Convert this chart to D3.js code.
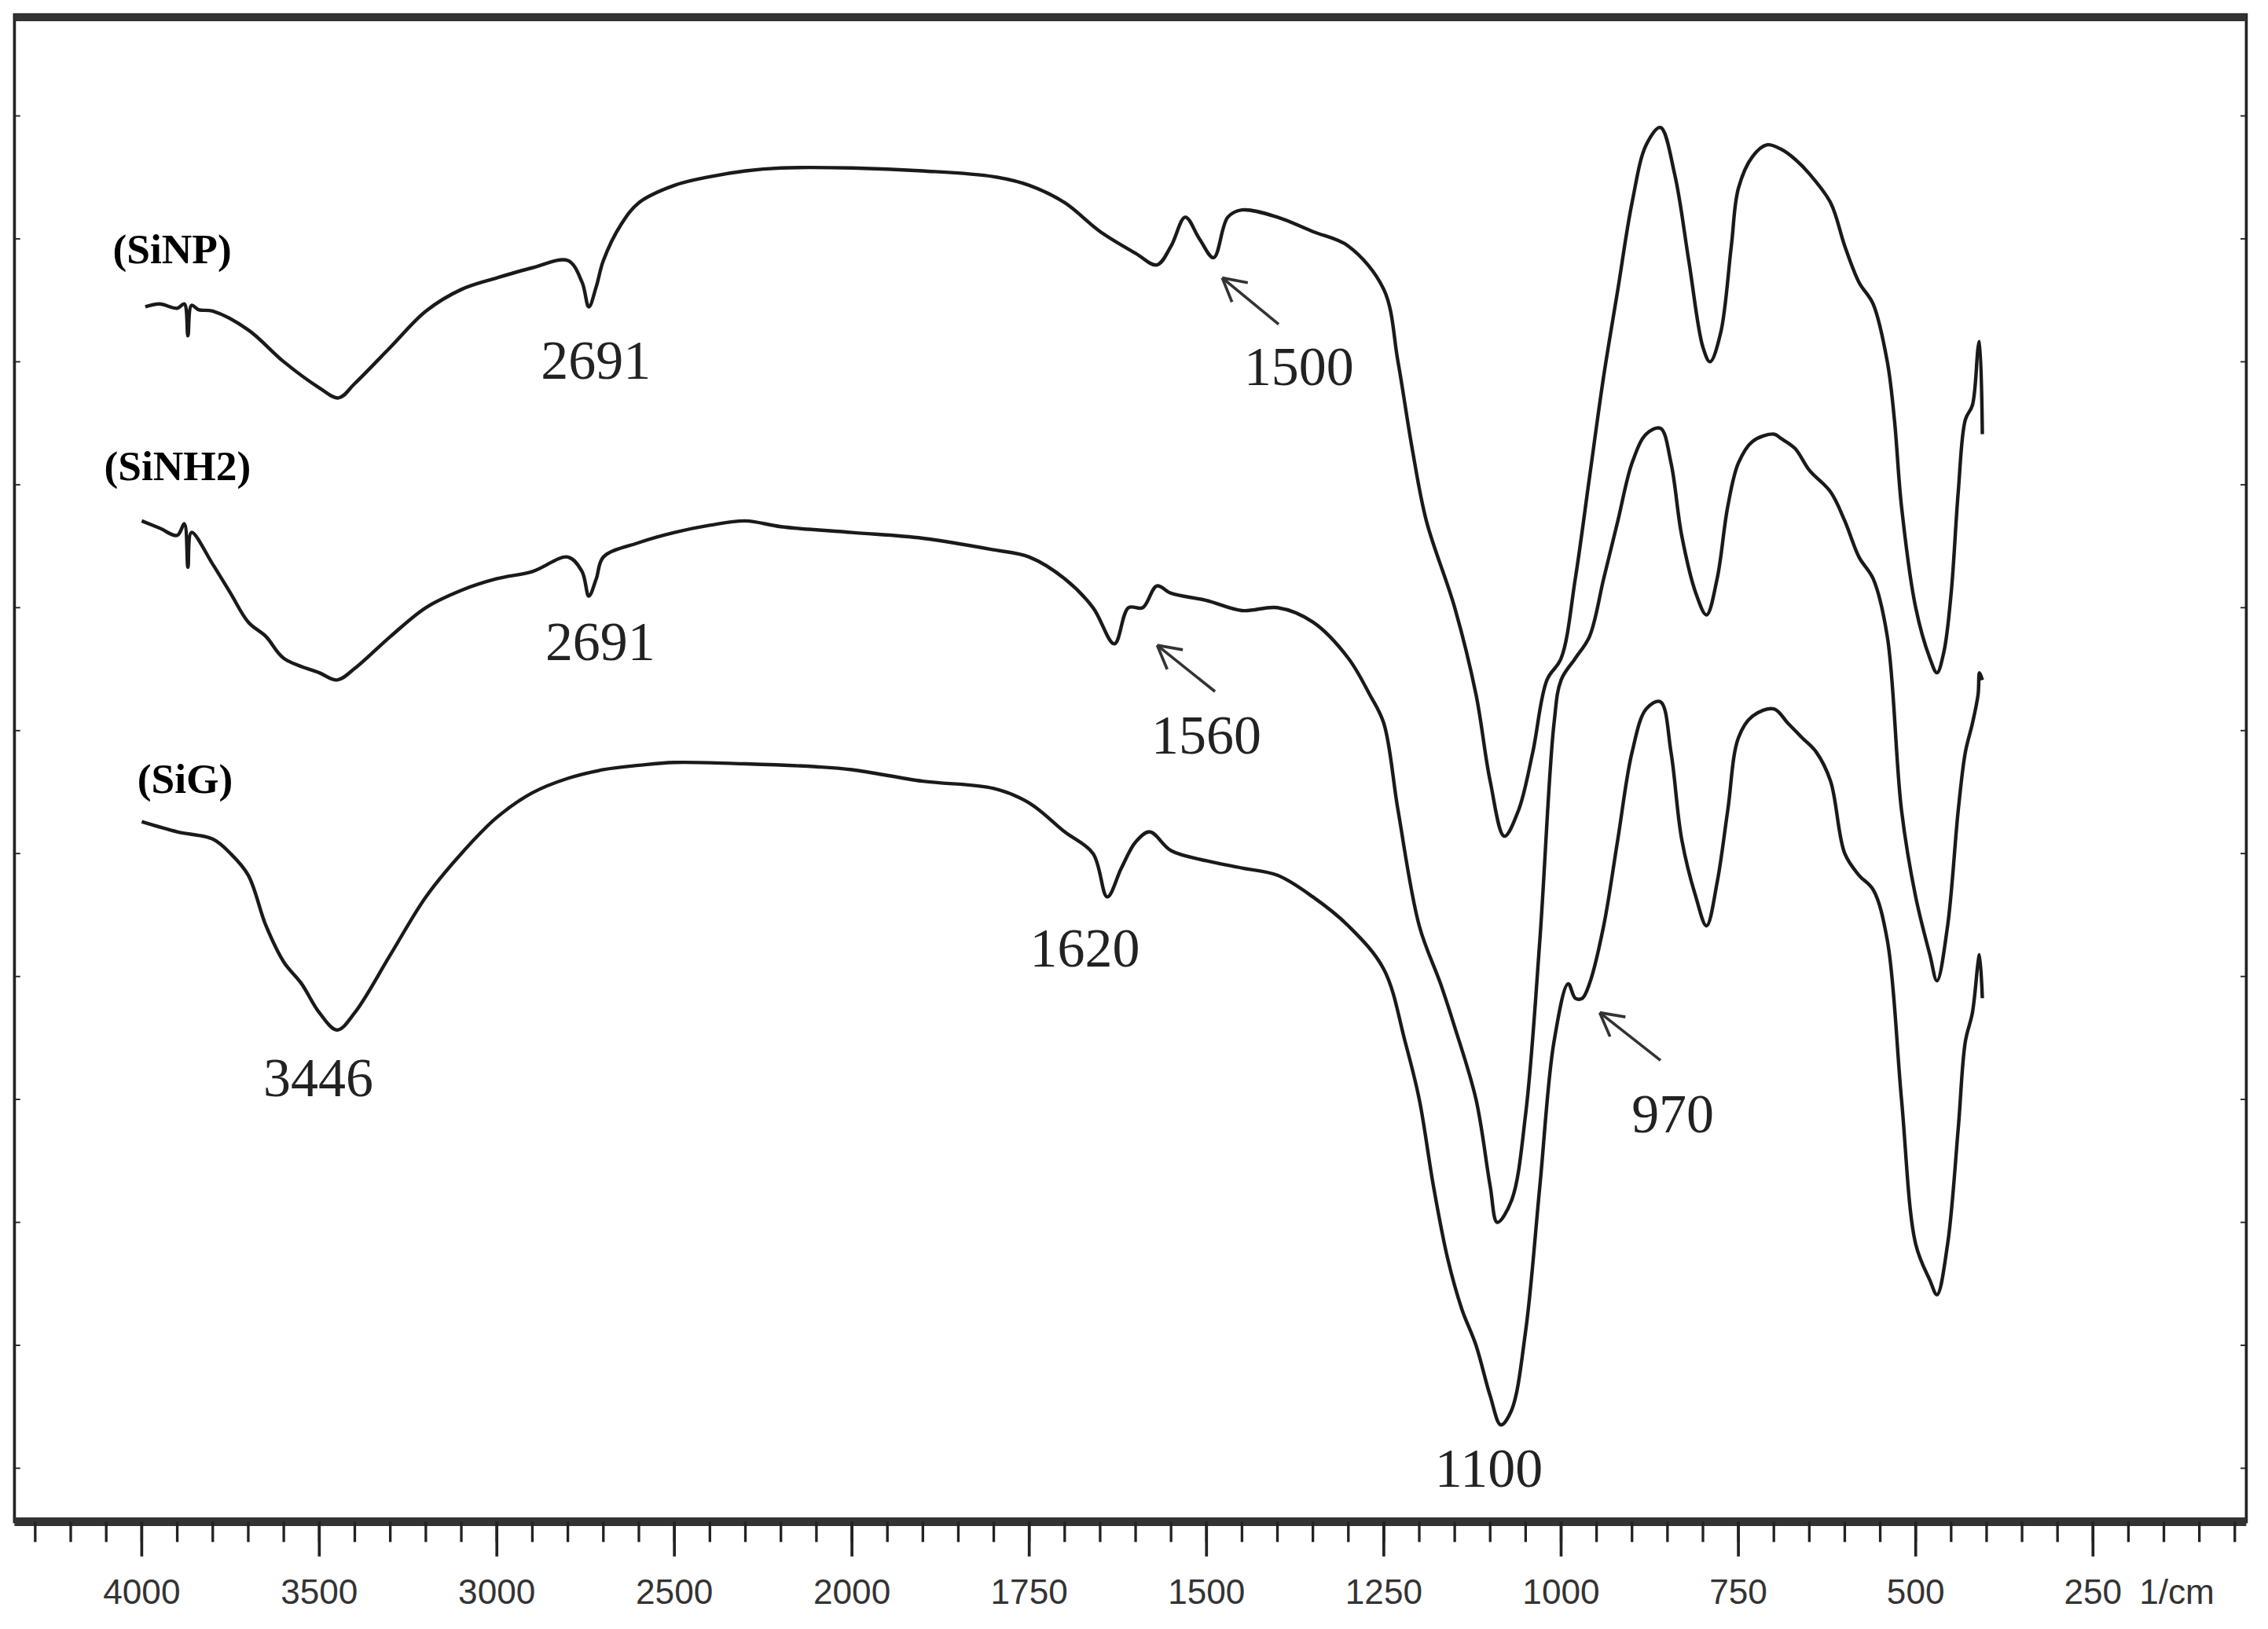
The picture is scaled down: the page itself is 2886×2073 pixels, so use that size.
<!DOCTYPE html><html><head><meta charset="utf-8">
<script src="https://cdn.jsdelivr.net/npm/d3@7"></script>
<style>body{margin:0;background:#fff}</style></head><body><svg id="c"></svg>
<script>
// wavenumber (cm-1) and transmittance-like values (arbitrary units)
const sinpX=[3990,3950,3900,3880,3870,3860,3840,3800,3700,3600,3500,3446,3400,3300,3200,3100,3000,2900,2800,2760,2741,2720,2700,2650,2600,2500,2400,2300,2200,2000,1900,1800,1750,1700,1650,1600,1570,1550,1530,1510,1490,1470,1450,1400,1350,1300,1250,1230,1210,1190,1150,1120,1100,1080,1060,1040,1020,1000,980,960,940,920,900,880,860,840,820,800,790,775,760,750,730,710,690,670,650,620,600,580,560,540,530,520,500,480,470,460,450,440,430,420,412,410,406];
const sinpY=[212,210,213,210,232,211,214,215,228,250,268,275,265,240,215,200,192,185,180,195,212,198,180,155,140,128,122,118,116,116,118,122,128,140,160,175,183,170,150,165,178,150,145,150,160,170,200,250,310,360,420,480,540,578,560,520,470,455,400,330,260,200,140,100,88,120,180,240,250,230,170,130,108,100,103,110,120,140,170,195,210,250,290,350,420,455,465,450,410,340,290,280,240,236,300];
const sinh2X=[4000,3950,3900,3880,3870,3860,3800,3750,3700,3650,3600,3500,3450,3400,3300,3200,3100,3000,2900,2800,2760,2741,2720,2700,2600,2500,2400,2300,2200,2000,1900,1800,1750,1700,1660,1630,1610,1590,1570,1550,1500,1450,1400,1350,1300,1270,1250,1230,1200,1170,1150,1120,1100,1090,1070,1050,1030,1010,1000,980,960,940,920,900,880,860,845,830,810,795,780,765,750,730,700,690,670,650,620,600,580,560,540,520,500,480,470,455,440,430,420,412,410,406];
const sinh2Y=[360,365,370,362,392,368,390,410,430,440,455,465,470,462,440,420,408,400,395,385,395,412,400,385,375,368,363,360,364,368,372,380,385,400,420,445,420,420,405,410,415,422,420,430,455,480,500,560,640,680,710,760,820,845,830,770,650,500,470,455,440,400,360,320,300,296,320,370,410,425,400,350,320,305,300,303,310,325,340,360,385,400,440,560,620,660,678,640,560,520,500,480,465,470];
const sigX=[4000,3900,3800,3750,3700,3650,3600,3550,3500,3450,3400,3300,3200,3100,3000,2900,2800,2700,2600,2500,2300,2100,2000,1900,1800,1750,1700,1660,1640,1620,1600,1580,1550,1500,1450,1400,1350,1300,1250,1220,1200,1180,1160,1140,1120,1100,1085,1070,1050,1030,1010,990,980,970,960,940,920,900,880,860,845,830,810,795,780,765,750,730,700,680,660,640,620,600,580,560,540,520,500,480,470,455,440,430,420,412,410,406];
const sigY=[568,575,580,590,605,640,665,680,700,712,700,660,620,590,565,548,538,532,529,527,528,530,532,540,545,555,575,590,620,600,582,575,588,595,600,605,620,640,670,720,760,820,870,905,930,965,985,975,920,820,720,680,690,690,680,640,580,520,490,485,520,580,620,640,610,560,510,495,490,500,510,520,540,590,605,615,650,760,860,885,895,860,780,720,700,665,660,690];
const xTicks=[4000,3500,3000,2500,2000,1750,1500,1250,1000,750,500,250];
const seriesNames=["(SiNP)","(SiNH2)","(SiG)"];
const peakLabels=["2691","1500","2691","1560","1620","3446","970","1100"];

const W=1568,H=1126;
const svg=d3.select("#c").attr("width",2886).attr("height",2073).attr("viewBox",`0 0 ${W} ${H}`);
const x=d3.scaleLinear().domain([4000,2000,250]).range([98,589,1447]);
const y=d3.scaleLinear().domain([0,1052]).range([0,1052]);
// frame
svg.append("rect").attr("x",10).attr("y",10).attr("width",1543).attr("height",1042).attr("fill","none").attr("stroke","#222").attr("stroke-width",2);
svg.append("line").attr("x1",10).attr("x2",1553).attr("y1",12).attr("y2",12).attr("stroke","#333").attr("stroke-width",5);
svg.append("line").attr("x1",10).attr("x2",1553).attr("y1",1052).attr("y2",1052).attr("stroke","#333").attr("stroke-width",6);
// x ticks
const minor=[4300,4200,4100];
for(let v=4000;v>2000;v-=100)minor.push(v);
for(let v=2000;v>=50;v-=50)minor.push(v);
svg.selectAll(".mt").data(minor).join("line").attr("x1",d=>x(d)).attr("x2",d=>x(d)).attr("y1",1052).attr("y2",1066).attr("stroke","#222").attr("stroke-width",1.8);
svg.selectAll(".Mt").data(xTicks).join("line").attr("x1",d=>x(d)).attr("x2",d=>x(d)).attr("y1",1052).attr("y2",1076).attr("stroke","#222").attr("stroke-width",2);
svg.selectAll(".tl").data(xTicks).join("text").attr("x",d=>x(d)).attr("y",1109).attr("text-anchor","middle")
 .attr("font-family","Liberation Sans, Arial").attr("font-size",24).attr("fill","#333").text(d=>d);
svg.append("text").attr("x",1479).attr("y",1109).attr("font-family","Liberation Sans, Arial").attr("font-size",24).attr("fill","#333").text("1/cm");
// left/right minor ticks
svg.selectAll(".yt").data(d3.range(0,12)).join("line").attr("x1",10).attr("x2",14).attr("y1",d=>80+d*85).attr("y2",d=>80+d*85).attr("stroke","#222");
svg.selectAll(".yt2").data(d3.range(0,12)).join("line").attr("x1",1549).attr("x2",1553).attr("y1",d=>80+d*85).attr("y2",d=>80+d*85).attr("stroke","#222");
// curves
const line=d3.line().x(d=>x(d[0])).y(d=>y(d[1])).curve(d3.curveCatmullRom.alpha(0.5));
[[sinpX,sinpY],[sinh2X,sinh2Y],[sigX,sigY]].forEach(([xs,ys])=>{
 svg.append("path").datum(xs.map((v,i)=>[v,ys[i]])).attr("d",line).attr("fill","none").attr("stroke","#1a1a1a").attr("stroke-width",2.4);
});
// series labels
const sPos=[[78,182],[72,332],[95,548]];
seriesNames.forEach((n,i)=>svg.append("text").attr("x",sPos[i][0]).attr("y",sPos[i][1]).attr("font-family","Liberation Serif, Times New Roman").attr("font-weight","bold").attr("font-size",29).text(n));
const pPos=[[374,262],[860,266],[377,456],[796,521],[712,668],[182,758],[1128,783],[992,1028]];
peakLabels.forEach((n,i)=>svg.append("text").attr("x",pPos[i][0]).attr("y",pPos[i][1]).attr("font-family","Liberation Serif, Times New Roman").attr("font-size",38).attr("fill","#222").text(n));
// arrows
const arrows=[[884,224,845,192],[840,478,800,446],[1148,733,1106,700]];
arrows.forEach(a=>{
 svg.append("line").attr("x1",a[0]).attr("y1",a[1]).attr("x2",a[2]).attr("y2",a[3]).attr("stroke","#333").attr("stroke-width",2);
 const ang=Math.atan2(a[3]-a[1],a[2]-a[0]);
 [0.5,-0.5].forEach(s=>svg.append("line").attr("x1",a[2]).attr("y1",a[3]).attr("x2",a[2]-18*Math.cos(ang+s)).attr("y2",a[3]-18*Math.sin(ang+s)).attr("stroke","#333").attr("stroke-width",2));
});
</script></body></html>
